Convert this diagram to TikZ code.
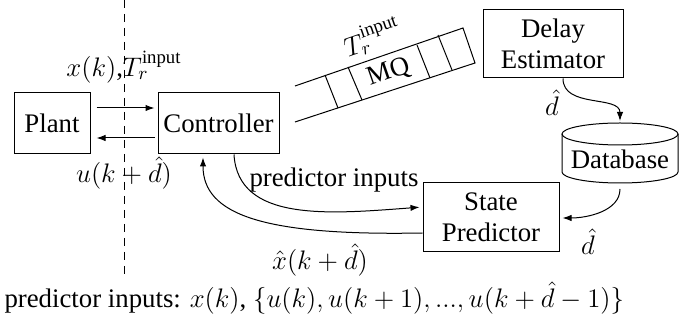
\RequirePackage{fix-cm}
\documentclass[tikz,border=0pt]{standalone}
\usepackage{amsmath}
\usepackage{fontspec}
\setmainfont{Liberation Serif}
\usetikzlibrary{arrows.meta}
\tikzset{
  box/.style={draw, line width=0.5pt, inner sep=0pt, align=center},
  arr/.style={line width=0.5pt, -{Latex[length=4.5pt,width=3.2pt]}},
  lbl/.style={inner sep=0pt},
}
\begin{document}
\begin{tikzpicture}[x=0.5pt,y=-0.5pt,font=\fontsize{13.4}{15.5}\selectfont, line width=0.5pt]
\useasboundingbox (0,0) rectangle (697,336);
% dashed boundary
\coordinate (dtop) at (124,0);
\coordinate (dbot) at (124,275);
\draw[dash pattern=on 4pt off 3pt] (dtop) -- (dbot);
% boxes
\node[box, minimum width=38pt, minimum height=30.5pt] (plant) at (52,123.5) {Plant};
\node[box, minimum width=60.5pt, minimum height=30.5pt] (ctrl) at (218.5,123.5) {Controller};
\node[box, minimum width=70pt, minimum height=34pt] (delay) at (553,44) {Delay\\Estimator};
\node[box, minimum width=68pt, minimum height=34.5pt] (sp) at (491,217.5) {State\\Predictor};
% database cylinder
\node[lbl] (db) at (620,159) {Database};
\draw (620,134) ellipse [x radius=29pt, y radius=5.5pt];
\draw (562,134) -- (562,172) arc[start angle=180, end angle=360, x radius=29pt, y radius=5.5pt] -- (678,134);
\coordinate (dbtop) at (620,121);
\coordinate (dbbot) at (620,189);
% queue
\draw (295,86) -- (463,28) -- (475,63) -- (295,122);
\draw (325,75) -- (338,108);
\draw (348,67) -- (362,100);
\draw (417,45) -- (430,78);
\draw (438,35) -- (452,70);
\node[lbl, rotate=19] (mq) at (389,72.5) {MQ};
\node[lbl, rotate=19] (tq) at (372,37) {$T_r^{\text{input}}$};
% plant <-> controller
\draw[arr] ([shift={(3pt,7.75pt)}]plant.east) -- ([shift={(-1.5pt,7.75pt)}]ctrl.west);
\draw[arr] ([shift={(-1.5pt,-7.25pt)}]ctrl.west) -- ([shift={(3pt,-7.25pt)}]plant.east);
\node[lbl] (lx) at (124,67) {$x(k)$,$T_r^{\text{input}}$};
\node[lbl] (lu) at (124,173) {$u(k+\hat{d})$};
% delay -> database
\draw[arr] ([xshift=5pt]delay.south) .. controls +(0,30) and +(0,-26) .. (dbtop);
\node[lbl] (ld1) at (552,103) {$\hat{d}$};
% database -> state predictor
\draw[arr, shorten >=1.5pt] (dbbot) .. controls +(0,22) and +(28,0) .. ([yshift=-0.25pt]sp.east);
\node[lbl] (ld2) at (588,242) {$\hat{d}$};
% controller -> state predictor
\draw[arr, shorten >=1.5pt] ([xshift=7.75pt]ctrl.south) .. controls +(4,68) and +(-93,7) .. ([yshift=5.25pt]sp.west);
\node[lbl] (lpi) at (334,180) {predictor inputs};
% state predictor -> controller
\draw[arr, shorten >=1.5pt] ([yshift=-7.75pt]sp.west) .. controls +(-160,3) and +(0,60) .. ([xshift=-7.75pt]ctrl.south);
\node[lbl] (lxh) at (320,260) {$\hat{x}(k+\hat{d})$};
% bottom text
\node[lbl, anchor=base west] (note) at (4,308) {predictor inputs: $x(k)$, $\{u(k),u(k+1),...,u(k+\hat{d}-1)\}$};
\end{tikzpicture}
\end{document}
